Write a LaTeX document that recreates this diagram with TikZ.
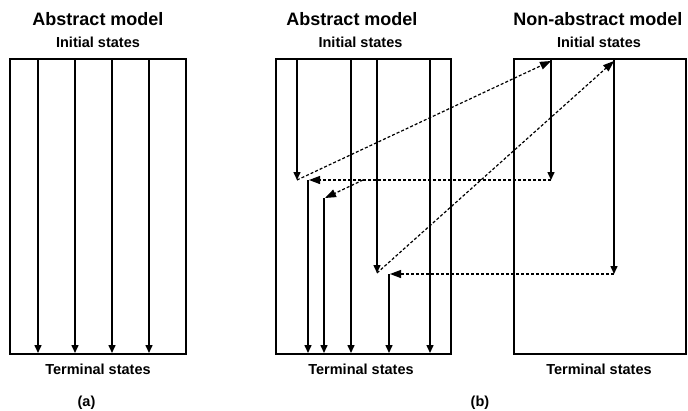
\documentclass[tikz,border=0pt]{standalone}
\usepackage{fontspec}
\setmainfont{Liberation Sans}
\usetikzlibrary{arrows.meta, positioning, calc}

\begin{document}
\begin{tikzpicture}[x=1pt, y=-1pt,
    box/.style={draw, line width=2pt, minimum height=295pt, inner sep=0pt},
    run/.style={line width=1.5pt, -{Triangle[length=8pt, width=7pt]}},
    hop/.style={line width=1.2pt, dash pattern=on 3pt off 2pt, -{Triangle[length=11pt, width=8pt]}},
    title/.style={font=\bfseries\fontsize{18}{21}\selectfont},
    lbl/.style={font=\bfseries\fontsize{14.5}{17}\selectfont}]
    \useasboundingbox (0,0) rectangle (688,410);
    % (a)
    \node[box, minimum width=176pt] (absA) at (98,206.5) {};
    \node[title] (titleA) at (98,19) {Abstract model};
    \node[lbl] (initA) at (98,42) {Initial states};
    \node[lbl] (termA) at (98,369) {Terminal states};
    \node[lbl] (capA) at (86.5,403) {(a)};
    \foreach \x in {38,75,112,149} {
      \draw[run] (\x,59) -- (\x,353);
    }
    % (b) abstract
    \node[box, minimum width=175pt] (absB) at (363.5,206.5) {};
    \node[title] (titleB) at (352,19) {Abstract model};
    \node[lbl] (initB) at (360.5,42) {Initial states};
    \node[lbl] (termB) at (361,369) {Terminal states};
    \node[lbl] (capB) at (480,403) {(b)};
    % (b) non-abstract
    \node[box, minimum width=172pt] (conB) at (600,206.5) {};
    \node[title] (titleC) at (598,19) {Non-abstract model};
    \node[lbl] (initC) at (599,42) {Initial states};
    \node[lbl] (termC) at (599,369) {Terminal states};
    % run end points
    \coordinate (a1s) at (297,59);  \coordinate (a1e) at (297,180);
    \coordinate (a2s) at (308,180); \coordinate (a2e) at (308,353);
    \coordinate (a3s) at (324,198); \coordinate (a3e) at (324,353);
    \coordinate (a5s) at (377,59);  \coordinate (a5e) at (377,273);
    \coordinate (a6s) at (389,274); \coordinate (a6e) at (389,353);
    \coordinate (n1s) at (551,59);  \coordinate (n1e) at (551,180);
    \coordinate (n2s) at (614,59);  \coordinate (n2e) at (614,274);
    \coordinate (fork) at (363,180);
    \foreach \x in {351,430} {
      \draw[run] (\x,59) -- (\x,353);
    }
    \foreach \r in {a1,a2,a3,a5,a6,n1,n2} {
      \draw[run] (\r s) -- (\r e);
    }
    % hops between models
    \draw[hop] (a1e) -- ($(n1s)+(0,2)$);
    \draw[hop] (n1e) -- ($(a2s)+(1,0)$);
    \draw[hop] (fork) -- ($(a3s)+(1,0)$);
    \draw[hop] (a5e) -- ($(n2s)+(0,2)$);
    \draw[hop] (n2e) -- ($(a6s)+(1,0)$);
\end{tikzpicture}
\end{document}
